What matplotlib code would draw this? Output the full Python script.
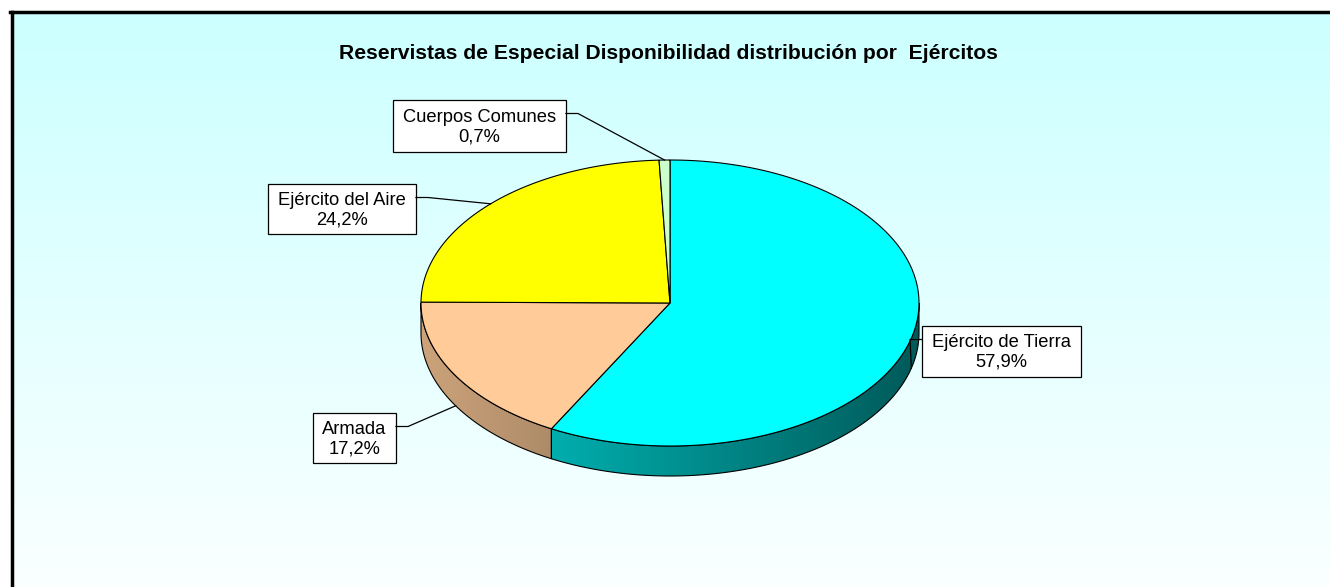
import numpy as np
import matplotlib.pyplot as plt
from matplotlib.patches import Polygon, Rectangle

plt.rcParams['font.family'] = ['Liberation Sans', 'DejaVu Sans']

# datos
titulo = "Reservistas de Especial Disponibilidad distribución por  Ejércitos"
ejercitos = ["Ejército de Tierra", "Armada", "Ejército del Aire", "Cuerpos Comunes"]
porcentajes = [57.9, 17.2, 24.2, 0.7]
colores = ["#00FFFF", "#FFCC99", "#FFFF00", "#CCFFCC"]

# cajas de etiquetas: (izq, arriba, der, abajo) en pixeles
cajas = [(922, 326, 1081, 377), (313, 413, 396, 463), (268, 184, 416, 234), (393, 100, 566, 152)]

W, H = 1330, 587
cx, cy, rx, ry, prof = 670, 303, 249, 143, 30  # centro, radios y grosor de la tarta

fig = plt.figure(figsize=(W / 100, H / 100), dpi=100)
ax = fig.add_axes([0, 0, 1, 1])

# fondo degradado (cian claro -> blanco)
g = np.linspace(0, 1, 256)[:, None, None]
c0 = np.array([0.8, 1.0, 1.0])
c1 = np.array([1.0, 1.0, 1.0])
fondo = np.repeat(c0 + (c1 - c0) * g, 8, axis=1)
ax.imshow(fondo, extent=(11, W + 60, H + 60, 11), aspect='auto', zorder=0)
# borde: solo arriba e izquierda quedan dentro de la imagen
ax.plot([11.5, 11.5], [H, 11.5], color='black', lw=2.5, zorder=1)
ax.plot([10.3, W], [11.5, 11.5], color='black', lw=2.5, zorder=1)


def punto(t, dz=0.0):
    t = np.radians(t)
    return cx + rx * np.cos(t), cy - ry * np.sin(t) + dz


def arco(t1, t2, dz=0.0, n=200):
    ts = np.linspace(t1, t2, n)
    x, y = punto(ts, dz)
    return np.column_stack([x, y])


# angulos de cada porcion (empieza arriba, sentido horario)
acum = np.concatenate([[0], np.cumsum(porcentajes)])
t_ini = 90 - 3.6 * acum[:-1]
t_fin = 90 - 3.6 * acum[1:]

# laterales (solo la mitad de delante)
xs = np.linspace(cx - rx, cx + rx, 400)
fac = 0.8 - 0.45 * (xs - (cx - rx)) / (2 * rx)
for i in range(len(porcentajes)):
    a = max(t_fin[i], -180)
    b = min(t_ini[i], 0)
    if a >= b:
        continue
    arriba = arco(a, b)
    abajo = arco(b, a, prof)
    poly = Polygon(np.vstack([arriba, abajo]), closed=True, fc='none', ec='black', lw=0.8, zorder=3)
    ax.add_patch(poly)
    base = np.array(plt.matplotlib.colors.to_rgb(colores[i]))
    tex = fac[None, :, None] * base[None, None, :]
    im = ax.imshow(tex, extent=(cx - rx, cx + rx, cy + ry + prof + 2, cy - 2), aspect='auto', zorder=2)
    im.set_clip_path(poly)

# caras superiores
for i in range(len(porcentajes)):
    pts = np.vstack([[cx, cy], arco(t_ini[i], t_fin[i])])
    ax.add_patch(Polygon(pts, closed=True, fc=colores[i], ec='black', lw=0.8, zorder=4))

# etiquetas con lineas guia
for i in range(len(porcentajes)):
    iz, ar, de, ab = cajas[i]
    ax.add_patch(Rectangle((iz, ar), de - iz, ab - ar, fc='white', ec='black', lw=0.9, zorder=5))
    txt = "{}\n{}%".format(ejercitos[i], "{:.1f}".format(porcentajes[i]).replace('.', ','))
    ax.text((iz + de) / 2, (ar + ab) / 2 + 1, txt, ha='center', va='center', fontsize=13.2,
            linespacing=1.2, zorder=6)
    tm = (t_ini[i] + t_fin[i]) / 2
    dz = prof if np.sin(np.radians(tm)) < 0 else 0
    px, py = punto(tm, dz)
    yl = ar + 13.5
    if px > de:
        xb, xc = de, de + 12
    else:
        xb, xc = iz, iz - 12
    ax.plot([xb, xc, px], [yl, yl, py], color='black', lw=0.9, zorder=5)

ax.text(668, 59, titulo, ha='center', va='baseline', fontsize=15.2, fontweight='bold', zorder=6)

ax.set_xlim(0, W)
ax.set_ylim(H, 0)
ax.axis('off')
fig.savefig('out.png', dpi=100, facecolor='white')
